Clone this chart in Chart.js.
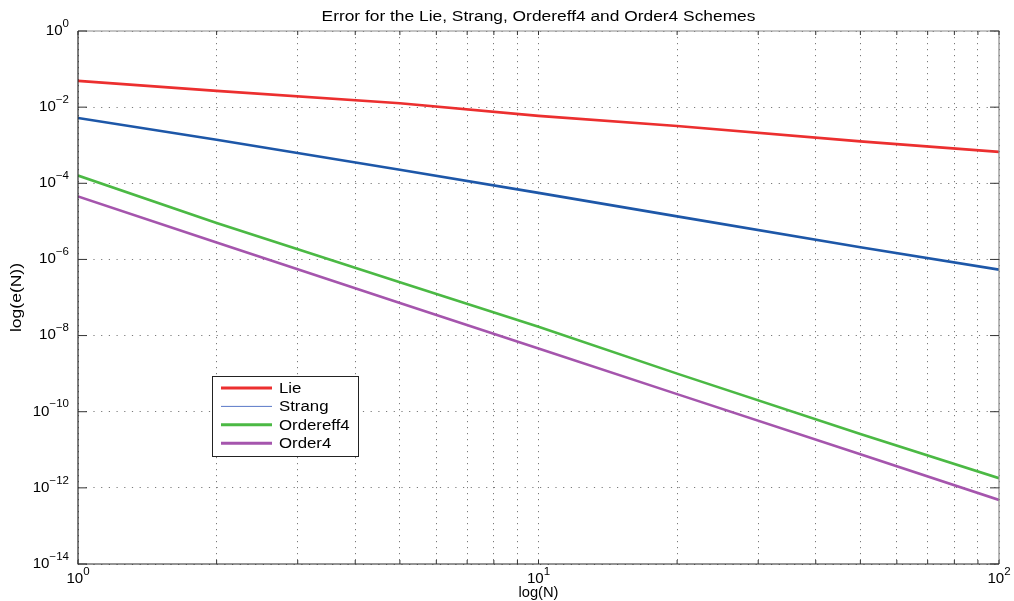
<!DOCTYPE html>
<html>
<head>
<meta charset="utf-8">
<title>Error for the Lie, Strang, Ordereff4 and Order4 Schemes</title>
<script src="https://cdn.jsdelivr.net/npm/chart.js@4"></script>
<style>
  html, body { margin: 0; padding: 0; background: #fff; }
  #wrap { width: 1014px; height: 601px; }
</style>
</head>
<body>
<div id="wrap"><canvas id="error-chart" width="1014" height="601"></canvas></div>
<script>
// Error curves of the splitting schemes against the number of steps N (log-log)
const stepCounts = [1, 2, 5, 10, 20, 50, 100];
const lieError = [4.9e-2, 2.67e-2, 1.27e-2, 5.9e-3, 3.2e-3, 1.26e-3, 6.7e-4];
const strangError = [5.2e-3, 1.39e-3, 2.26e-4, 5.6e-5, 1.35e-5, 2.1e-6, 5.4e-7];
const ordereff4Error = [1.6e-4, 9.1e-6, 2.5e-7, 1.7e-8, 1.0e-9, 2.6e-11, 1.8e-12];
const order4Error = [4.5e-5, 2.8e-6, 7.2e-8, 4.6e-9, 2.9e-10, 7.6e-12, 4.8e-13];

const seriesNames = ['Lie', 'Strang', 'Ordereff4', 'Order4'];
const seriesColors = ['#ec2f2f', '#1d57a8', '#4bb944', '#a555ad'];

// grid positions along N, and the powers of ten labelled on each axis
const xGridTicks = [1, 2, 3, 4, 5, 6, 7, 8, 9, 10, 20, 30, 40, 50, 60, 70, 80, 90, 100];
const xLabelExps = [0, 1, 2];
const yLabelExps = [0, -2, -4, -6, -8, -10, -12, -14];

const FONT = '"Liberation Sans", Arial, Helvetica, sans-serif';

function toPoints(values) {
  return stepCounts.map((n, i) => ({ x: n, y: values[i] }));
}

// horizontally stretched text, the way the exported figure renders it
function stretchText(ctx, text, x, y, size, sx, align) {
  ctx.save();
  ctx.font = size + 'px ' + FONT;
  const w = ctx.measureText(text).width * sx;
  let x0 = x;
  if (align === 'center') x0 = x - w / 2;
  if (align === 'right') x0 = x - w;
  ctx.translate(x0, y);
  ctx.scale(sx, 1);
  ctx.textAlign = 'left';
  ctx.fillText(text, 0, 0);
  ctx.restore();
  return w;
}

// "10" with a raised exponent
function powerLabel(ctx, exp, x, y, align) {
  const sup = String(exp).replace('-', '\u2212');
  ctx.save();
  ctx.font = '14px ' + FONT;
  const wb = ctx.measureText('10').width * 1.08;
  ctx.font = '10px ' + FONT;
  const ws = ctx.measureText(sup).width * 1.15;
  let x0 = align === 'right' ? x - wb - ws : x - (wb + ws) / 2;
  ctx.textBaseline = 'middle';
  stretchText(ctx, '10', x0, y, 14, 1.08, 'left');
  stretchText(ctx, sup, x0 + wb, y - 7, 10, 1.15, 'left');
  ctx.restore();
}

const axesFrame = {
  id: 'axesFrame',
  afterDatasetsDraw(chart) {
    const { ctx, chartArea: a, scales } = chart;
    const xs = scales.x, ys = scales.y;
    ctx.save();

    // box: dark left/bottom, lighter top/right
    ctx.lineWidth = 1.2;
    ctx.strokeStyle = '#8a8a8a';
    ctx.beginPath();
    ctx.moveTo(a.left, a.top); ctx.lineTo(a.right, a.top); ctx.lineTo(a.right, a.bottom);
    ctx.stroke();
    ctx.strokeStyle = '#2a2a2a';
    ctx.beginPath();
    ctx.moveTo(a.left, a.top); ctx.lineTo(a.left, a.bottom); ctx.lineTo(a.right, a.bottom);
    ctx.stroke();

    // inward tick marks
    ctx.lineWidth = 1;
    ctx.strokeStyle = '#333';
    xGridTicks.forEach(v => {
      const px = xs.getPixelForValue(v);
      ctx.beginPath();
      ctx.moveTo(px, a.bottom); ctx.lineTo(px, a.bottom - 4);
      ctx.moveTo(px, a.top); ctx.lineTo(px, a.top + 4);
      ctx.stroke();
    });
    yLabelExps.forEach(e => {
      const py = ys.getPixelForValue(Math.pow(10, e));
      ctx.beginPath();
      ctx.moveTo(a.left, py); ctx.lineTo(a.left + 9, py);
      ctx.moveTo(a.right, py); ctx.lineTo(a.right - 9, py);
      ctx.stroke();
    });

    // tick labels
    ctx.fillStyle = '#000';
    yLabelExps.forEach(e => {
      powerLabel(ctx, e, a.left - 9, ys.getPixelForValue(Math.pow(10, e)), 'right');
    });
    xLabelExps.forEach(e => {
      powerLabel(ctx, e, xs.getPixelForValue(Math.pow(10, e)), a.bottom + 15, 'center');
    });

    // title and axis titles
    ctx.textBaseline = 'middle';
    stretchText(ctx, 'Error for the Lie, Strang, Ordereff4 and Order4 Schemes',
      (a.left + a.right) / 2, 17, 14, 1.24, 'center');
    stretchText(ctx, 'log(N)', (a.left + a.right) / 2, 593, 14, 1.05, 'center');
    ctx.save();
    ctx.translate(17, (a.top + a.bottom) / 2);
    ctx.rotate(-Math.PI / 2);
    stretchText(ctx, 'log(e(N))', 0, 0, 14, 1.25, 'center');
    ctx.restore();

    // legend box inside the axes
    const lx = 212, ly = 376, lw = 146, lh = 80;
    ctx.fillStyle = '#fff';
    ctx.fillRect(lx, ly, lw, lh);
    ctx.strokeStyle = '#222';
    ctx.lineWidth = 1;
    ctx.strokeRect(lx + 0.5, ly + 0.5, lw, lh);
    chart.data.datasets.forEach((ds, i) => {
      const ry = ly + 12 + i * 18.4;
      ctx.strokeStyle = i === 1 ? '#5a78c8' : ds.borderColor;
      ctx.lineWidth = i === 1 ? 1 : 3;
      ctx.beginPath();
      ctx.moveTo(lx + 9, ry); ctx.lineTo(lx + 60, ry);
      ctx.stroke();
      ctx.fillStyle = '#000';
      stretchText(ctx, ds.label, lx + 67, ry + 1, 14, 1.2, 'left');
    });

    ctx.restore();
  }
};

const ctx = document.getElementById('error-chart').getContext('2d');
new Chart(ctx, {
  type: 'line',
  data: {
    datasets: seriesNames.map((name, i) => ({
      label: name,
      data: toPoints([lieError, strangError, ordereff4Error, order4Error][i]),
      borderColor: seriesColors[i],
      backgroundColor: seriesColors[i],
      borderWidth: 2.6,
      pointRadius: 0,
      tension: 0,
      fill: false
    }))
  },
  options: {
    responsive: false,
    animation: false,
    events: [],
    layout: { padding: { left: 78, right: 15, top: 31, bottom: 37 } },
    plugins: {
      legend: { display: false },
      title: { display: false },
      tooltip: { enabled: false }
    },
    scales: {
      x: {
        type: 'logarithmic',
        min: 1,
        max: 100,
        afterBuildTicks: scale => { scale.ticks = xGridTicks.map(v => ({ value: v })); },
        ticks: { display: false },
        grid: { color: '#7a7a7a', lineWidth: 1, drawTicks: false },
        border: { display: false, dash: [1.2, 4.8] }
      },
      y: {
        type: 'logarithmic',
        min: 1e-14,
        max: 1,
        afterBuildTicks: scale => { scale.ticks = yLabelExps.map(e => ({ value: Math.pow(10, e) })); },
        ticks: { display: false },
        grid: { color: '#7a7a7a', lineWidth: 1, drawTicks: false },
        border: { display: false, dash: [1.2, 6.5] }
      }
    }
  },
  plugins: [axesFrame]
});
</script>
</body>
</html>
